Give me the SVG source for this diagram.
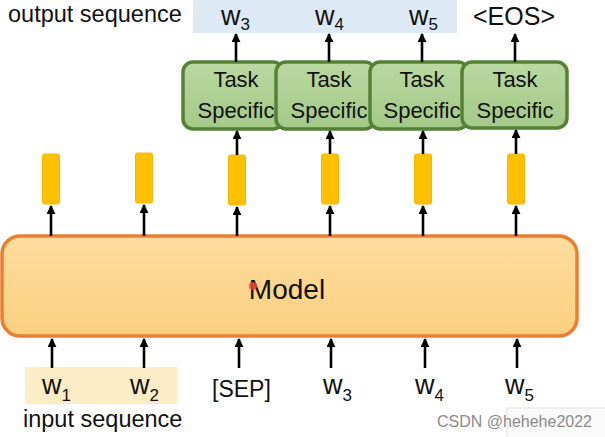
<svg xmlns="http://www.w3.org/2000/svg" width="605" height="437" viewBox="0 0 605 437">
  <defs>
    <linearGradient id="gGreen" x1="0" y1="0" x2="0" y2="1">
      <stop offset="0" stop-color="#B9D8A0"/>
      <stop offset="1" stop-color="#A3C987"/>
    </linearGradient>
    <linearGradient id="gOrange" x1="0" y1="0" x2="0" y2="1">
      <stop offset="0" stop-color="#FDDC9E"/>
      <stop offset="1" stop-color="#FCD07F"/>
    </linearGradient>
    <marker id="ah" viewBox="0 0 10 10" refX="9" refY="5" markerWidth="9" markerHeight="9" markerUnits="userSpaceOnUse" orient="auto">
      <path d="M0,0 L10,5 L0,10 z" fill="#000"/>
    </marker>
  </defs>
  <style>
    text { font-family: "Liberation Sans", Arial, sans-serif; fill: #111; }
    .lbl { font-size: 23.5px; }
    .w { font-size: 27px; }
    .sub { font-size: 17px; }
    .task { font-size: 22px; text-anchor: middle; }
    .ts rect { fill: url(#gGreen); stroke: #548235; stroke-width: 3.5; }
    .vec { fill: #FFC000; stroke: #F2B600; stroke-width: 1; }
    .arr line { stroke: #000; stroke-width: 2.6; marker-end: url(#ah); }
  </style>

  <!-- background bands -->
  <rect id="output-band" x="193" y="0" width="264" height="33" fill="#DDE9F5"/>
  <rect id="input-band" x="25" y="367" width="152" height="37" fill="#FCEDC6"/>

  <!-- labels -->
  <text class="lbl" x="8" y="22">output sequence</text>
  <text class="lbl" x="23" y="427">input sequence</text>

  <!-- output tokens -->
  <g id="outputs">
    <text class="w" x="221" y="25">w<tspan class="sub" dy="5">3</tspan></text>
    <text class="w" x="315" y="25">w<tspan class="sub" dy="5">4</tspan></text>
    <text class="w" x="409" y="25">w<tspan class="sub" dy="5">5</tspan></text>
    <text x="473" y="25" font-size="25">&lt;EOS&gt;</text>
  </g>

  <!-- task specific heads -->
  <g id="task1" class="ts">
    <rect x="183" y="62" width="100" height="67" rx="10"/>
    <text class="task" x="236" y="87">Task</text>
    <text class="task" x="236" y="118">Specific</text>
  </g>
  <g id="task2" class="ts">
    <rect x="276" y="62" width="99" height="67" rx="10"/>
    <text class="task" x="329" y="87">Task</text>
    <text class="task" x="329" y="118">Specific</text>
  </g>
  <g id="task3" class="ts">
    <rect x="370" y="62" width="98" height="67" rx="10"/>
    <text class="task" x="422" y="87">Task</text>
    <text class="task" x="422" y="118">Specific</text>
  </g>
  <g id="task4" class="ts">
    <rect x="462" y="62" width="105" height="66" rx="10"/>
    <text class="task" x="515" y="87">Task</text>
    <text class="task" x="515" y="118">Specific</text>
  </g>

  <!-- hidden vectors -->
  <g id="vectors">
    <rect class="vec" x="42.5" y="154" width="17" height="50" rx="2"/>
    <rect class="vec" x="135.5" y="153" width="17" height="50" rx="2"/>
    <rect class="vec" x="228.5" y="155" width="17" height="50" rx="2"/>
    <rect class="vec" x="321.5" y="154" width="17" height="50" rx="2"/>
    <rect class="vec" x="414.5" y="154" width="17" height="50" rx="2"/>
    <rect class="vec" x="507.5" y="154" width="17" height="50" rx="2"/>
  </g>

  <!-- model -->
  <g id="model">
    <rect x="2" y="236" width="575" height="100" rx="18" fill="url(#gOrange)" stroke="#ED7D31" stroke-width="3.5"/>
    <text x="287" y="299" font-size="28" text-anchor="middle">Model</text>
    <circle cx="253" cy="286" r="4" fill="#E8403A" opacity="0.85"/>
  </g>

  <!-- input tokens -->
  <g id="inputs">
    <text class="w" x="42" y="394">w<tspan class="sub" dy="7">1</tspan></text>
    <text class="w" x="130" y="394">w<tspan class="sub" dy="7">2</tspan></text>
    <text x="212" y="397" font-size="23">[SEP]</text>
    <text class="w" x="323" y="394">w<tspan class="sub" dy="7">3</tspan></text>
    <text class="w" x="415" y="394">w<tspan class="sub" dy="7">4</tspan></text>
    <text class="w" x="505" y="394">w<tspan class="sub" dy="7">5</tspan></text>
  </g>

  <!-- connectors -->
  <g id="connectors" class="arr">
    <line x1="236" y1="62" x2="236" y2="34"/>
    <line x1="329" y1="62" x2="329" y2="34"/>
    <line x1="422" y1="62" x2="422" y2="34"/>
    <line x1="515" y1="62" x2="515" y2="34"/>

    <line x1="237" y1="155" x2="237" y2="131"/>
    <line x1="330" y1="154" x2="330" y2="131"/>
    <line x1="423" y1="154" x2="423" y2="131"/>
    <line x1="516" y1="154" x2="516" y2="130"/>

    <line x1="51" y1="236" x2="51" y2="206"/>
    <line x1="144" y1="236" x2="144" y2="205"/>
    <line x1="237" y1="236" x2="237" y2="207"/>
    <line x1="330" y1="236" x2="330" y2="206"/>
    <line x1="423" y1="236" x2="423" y2="206"/>
    <line x1="516" y1="236" x2="516" y2="206"/>

    <line x1="52" y1="368" x2="52" y2="339"/>
    <line x1="144" y1="368" x2="144" y2="339"/>
    <line x1="239" y1="368" x2="239" y2="339"/>
    <line x1="331" y1="368" x2="331" y2="339"/>
    <line x1="425" y1="368" x2="425" y2="339"/>
    <line x1="517" y1="368" x2="517" y2="339"/>
  </g>

  <!-- watermark -->
  <rect x="507" y="408" width="100" height="31" fill="#FAFAFA" stroke="#E2E2E2" stroke-width="1"/>
  <text x="437" y="427" font-size="16" style="fill:#8A8A8A">CSDN @hehehe2022</text>
</svg>
